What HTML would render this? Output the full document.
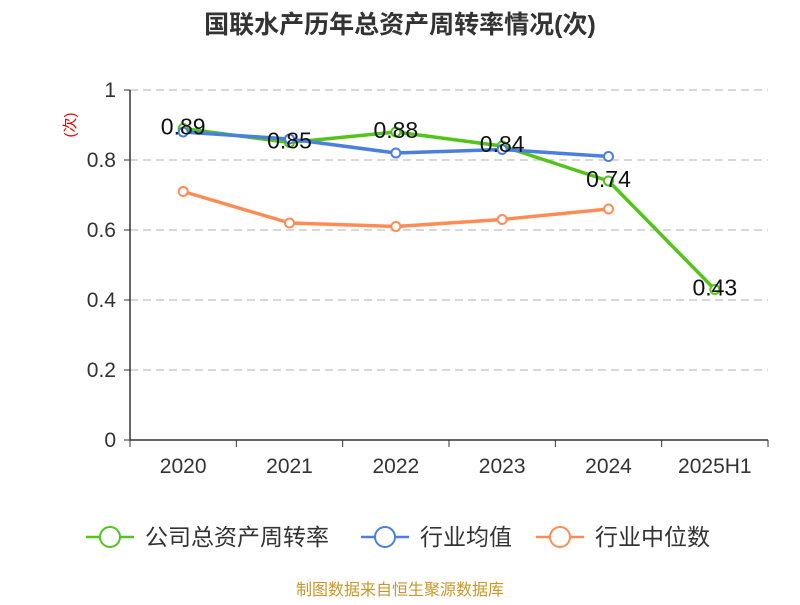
<!DOCTYPE html>
<html><head><meta charset="utf-8"><style>
body{margin:0;background:#fff;font-family:"Liberation Sans","Noto Sans CJK SC",sans-serif}
</style></head><body>
<svg id="chart" width="800" height="600" xmlns="http://www.w3.org/2000/svg">
<text x="400" y="33" text-anchor="middle" font-size="25" font-weight="bold" fill="#333" font-family="Liberation Sans, Noto Sans CJK SC, sans-serif">国联水产历年总资产周转率情况(次)</text>
<text transform="translate(75,125) rotate(-90)" text-anchor="middle" font-size="15" fill="#e00" font-family="Liberation Sans, Noto Sans CJK SC, sans-serif">(次)</text>
<g id="grid"></g><g id="axes"></g><g id="series"></g><g id="labels"></g>
<g font-size="23" fill="#333" font-family="Liberation Sans, Noto Sans CJK SC, sans-serif">
<g><line x1="86" y1="537" x2="134" y2="537" stroke="#52c41a" stroke-width="2.5"/><circle cx="110" cy="537" r="10" fill="#fff" stroke="#52c41a" stroke-width="2"/><text x="145" y="545">公司总资产周转率</text></g>
<g><line x1="361" y1="537" x2="409" y2="537" stroke="#4a7fe0" stroke-width="2.5"/><circle cx="385" cy="537" r="10" fill="#fff" stroke="#4a7fe0" stroke-width="2"/><text x="420" y="545">行业均值</text></g>
<g><line x1="536" y1="537" x2="584" y2="537" stroke="#ff8c55" stroke-width="2.5"/><circle cx="560" cy="537" r="10" fill="#fff" stroke="#ff8c55" stroke-width="2"/><text x="595" y="545">行业中位数</text></g>
</g>
<text x="400" y="595" text-anchor="middle" font-size="16" fill="#c8962a" font-family="Liberation Sans, Noto Sans CJK SC, sans-serif">制图数据来自恒生聚源数据库</text>
</svg>
<script>
const categories=["2020","2021","2022","2023","2024","2025H1"];
const companyValues=[0.89,0.85,0.88,0.84,0.74,0.43];
const avgValues=[0.88,0.86,0.82,0.83,0.81];
const medianValues=[0.71,0.62,0.61,0.63,0.66];
const yTicks=[0,0.2,0.4,0.6,0.8,1];
const yTickLabels=["0","0.2","0.4","0.6","0.8","1"];
const NS="http://www.w3.org/2000/svg";
const X0=130,X1=768,Y0=440,Y1=90;
const bw=(X1-X0)/categories.length;
const x=i=>X0+bw*(i+0.5);
const y=v=>Y0-(Y0-Y1)*v;
function mk(tag,attrs,parent){const e=document.createElementNS(NS,tag);for(const k in attrs)e.setAttribute(k,attrs[k]);document.getElementById(parent).appendChild(e);return e;}
yTicks.forEach((t,i)=>{
 if(t>0){const g=mk('line',{x1:X0,x2:X1,y1:y(t),y2:y(t),stroke:'#ccc','stroke-dasharray':'8,5','stroke-width':1.5},'grid');
 
 }
 const tk=mk('line',{x1:X0-6,x2:X0,y1:y(t),y2:y(t),stroke:'#333'},'axes');
 
 
 const l=mk('text',{x:X0-14,y:y(t)+7,'text-anchor':'end','font-size':21,fill:'#333'},'axes');
 l.textContent=yTickLabels[i];
 
 
});
const ya=mk('line',{x1:X0,x2:X0,y1:Y1,y2:Y0,stroke:'#333','stroke-width':1.5},'axes');


const xa=mk('line',{x1:X0,x2:X1,y1:Y0,y2:Y0,stroke:'#333','stroke-width':1.5},'axes');


for(let i=0;i<=categories.length;i++){const t=mk('line',{x1:X0+bw*i,x2:X0+bw*i,y1:Y0,y2:Y0+7,stroke:'#333'},'axes');

}
categories.forEach((c,i)=>{const l=mk('text',{x:x(i),y:Y0+33,'text-anchor':'middle','font-size':21,fill:'#333'},'axes');l.textContent=c;

});
function series(vals,color,name){
 const p=mk('polyline',{points:vals.map((v,i)=>x(i)+','+y(v)).join(' '),fill:'none',stroke:color,'stroke-width':3.5,'stroke-linejoin':'round'},'series');
 
 
 vals.forEach((v,i)=>{const c=mk('circle',{cx:x(i),cy:y(v),r:4.5,fill:'#fff',stroke:color,'stroke-width':2},'series');
 
 });
}
series(companyValues,'#52c41a','company');
series(avgValues,'#4a7fe0','industry-avg');
series(medianValues,'#ff8c55','industry-median');
companyValues.forEach((v,i)=>{const l=mk('text',{x:x(i),y:y(v)+6,'text-anchor':'middle','font-size':23,fill:'#111'},'labels');l.textContent=v.toFixed(2);

});
</script>
</body></html>
